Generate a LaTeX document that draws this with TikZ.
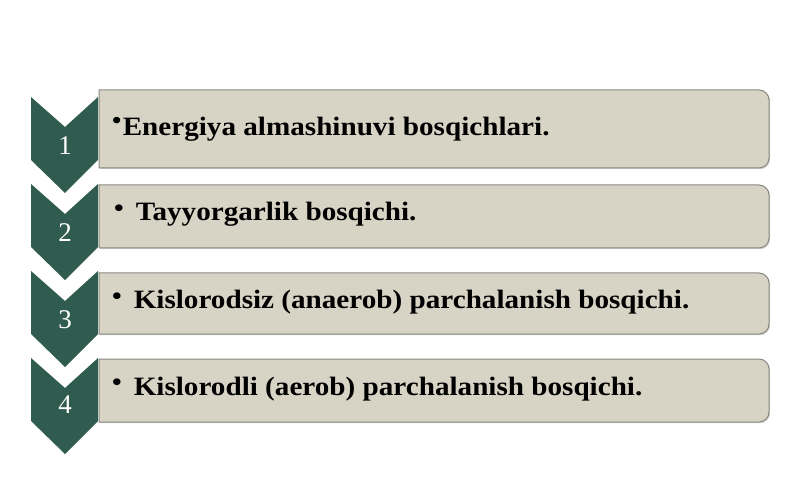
\documentclass[tikz,border=0pt]{standalone}
\usepackage{fontspec}
\setmainfont{Liberation Serif}
\newfontfamily\itemfont{Liberation Serif}[FakeStretch=1.1]
\usetikzlibrary{shadows}
\definecolor{chevgreen}{HTML}{2F5C4E}
\definecolor{boxfill}{HTML}{D7D4C6}
\definecolor{boxline}{HTML}{8A8980}
\tikzset{
  chev/.style={fill=chevgreen,draw=none},
  stepbox/.style={fill=boxfill,draw=boxline,line width=1pt,
    drop shadow={opacity=0.35,shadow xshift=1.2pt,shadow yshift=-1.2pt}},
  num/.style={text=white,font=\fontsize{27}{30}\selectfont,inner sep=0pt},
  item/.style={anchor=base west,inner sep=0pt,
    font=\itemfont\fontsize{26.5}{30}\selectfont\bfseries}
}
\newcommand{\bul}{\raisebox{0.18em}{\fontsize{25}{25}\selectfont\textbullet}\hspace{0.45em}}
\begin{document}
\begin{tikzpicture}[x=1pt,y=1pt]
      \useasboundingbox (0,0) rectangle (800,485);

      \path[stepbox] (99,395) -- (759,395) arc[start angle=90,end angle=0,radius=10]
        -- (769,327) arc[start angle=0,end angle=-90,radius=10] -- (99,317) -- cycle;
      \path[stepbox] (99,300) -- (759,300) arc[start angle=90,end angle=0,radius=10]
        -- (769,247) arc[start angle=0,end angle=-90,radius=10] -- (99,237) -- cycle;
      \path[stepbox] (99,212) -- (759,212) arc[start angle=90,end angle=0,radius=10]
        -- (769,161) arc[start angle=0,end angle=-90,radius=10] -- (99,151) -- cycle;
      \path[stepbox] (99,126) -- (759,126) arc[start angle=90,end angle=0,radius=10]
        -- (769,73) arc[start angle=0,end angle=-90,radius=10] -- (99,63) -- cycle;

      \path[chev] (31,388) -- (65,358) -- (98,388) -- (98,325) -- (65,292) -- (31,325) -- cycle;
      \path[chev] (31,301) -- (65,271) -- (98,301) -- (98,238) -- (65,205) -- (31,238) -- cycle;
      \path[chev] (31,214) -- (65,184) -- (98,214) -- (98,151) -- (65,118) -- (31,151) -- cycle;
      \path[chev] (31,127) -- (65,97) -- (98,127) -- (98,64) -- (65,31) -- (31,64) -- cycle;

      \node[num] (n1) at (65,339) {1};
      \node[num] (n2) at (65,252) {2};
      \node[num] (n3) at (65,165) {3};
      \node[num] (n4) at (65,80) {4};

      \node[item] (t1) at (112,349) {\raisebox{0.28em}{\fontsize{24}{24}\selectfont\textbullet}\hspace{0.05em}Energiya almashinuvi bosqichlari.};
      \node[item] (t2) at (114,264) {\bul Tayyorgarlik bosqichi.};
      \node[item] (t3) at (112,176) {\bul Kislorodsiz (anaerob) parchalanish bosqichi.};
      \node[item] (t4) at (112,90) {\bul Kislorodli (aerob) parchalanish bosqichi.};
    \end{tikzpicture}
\end{document}
